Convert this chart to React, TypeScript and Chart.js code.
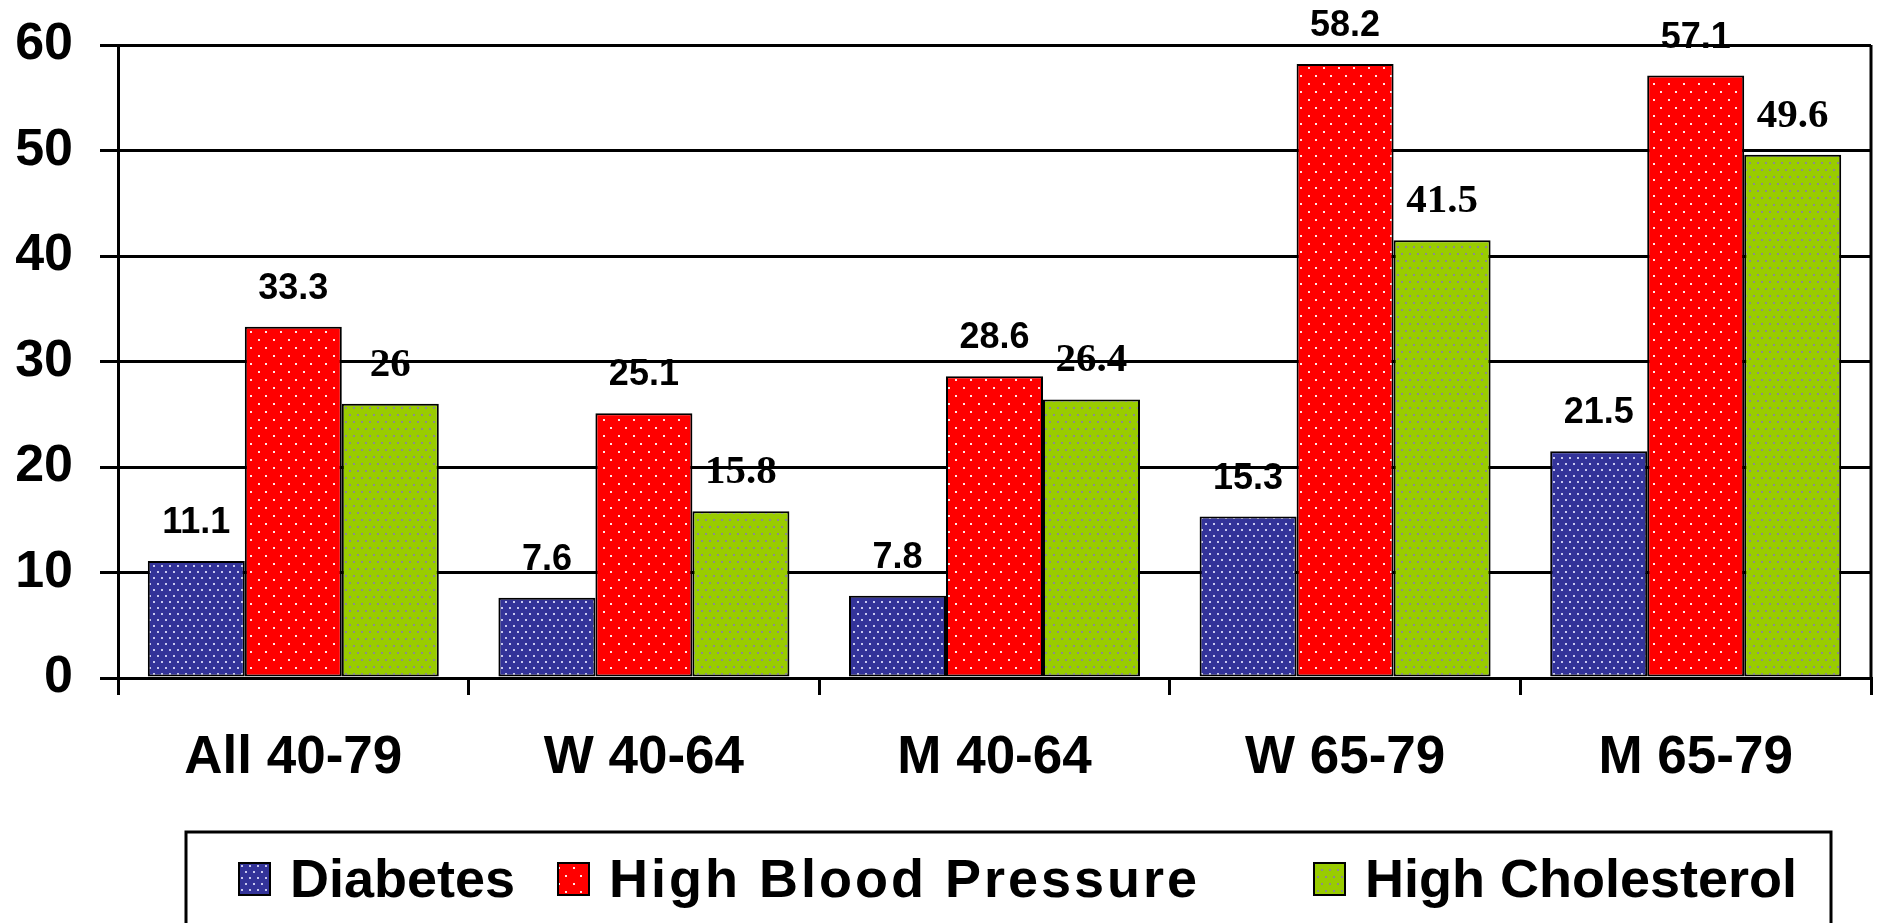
import React, { useEffect, useRef } from "react";
import { Chart, registerables } from "chart.js";

Chart.register(...registerables);

// ---- data ----
const categories = ["All 40-79", "W 40-64", "M 40-64", "W 65-79", "M 65-79"];
const seriesNames = ["Diabetes", "High Blood Pressure", "High Cholesterol"];
const diabetes = [11.1, 7.6, 7.8, 15.3, 21.5];
const highBloodPressure = [33.3, 25.1, 28.6, 58.2, 57.1];
const highCholesterol = [26, 15.8, 26.4, 41.5, 49.6];
const yMin = 0;
const yMax = 60;
const yStep = 10;

// ---- styles ----
const SANS = '"Liberation Sans", Arial, Helvetica, sans-serif';
const SERIF = '"Liberation Serif", "Times New Roman", Times, serif';
const LABEL_FONTS = [
  `bold 36px ${SANS}`,
  `bold 36px ${SANS}`,
  `bold 41px ${SERIF}`,
];
const LEGEND_SPACING = ["0px", "3px", "0px"];

function makePattern(
  bg: string,
  dot: string,
  w: number,
  h: number,
  dots: number[][],
  size: number
) {
  const c = document.createElement("canvas");
  c.width = w;
  c.height = h;
  const g = c.getContext("2d")!;
  g.fillStyle = bg;
  g.fillRect(0, 0, w, h);
  g.fillStyle = dot;
  dots.forEach(([x, y]) => g.fillRect(x, y, size, size));
  const ctx = document.createElement("canvas").getContext("2d")!;
  return ctx.createPattern(c, "repeat")!;
}

export default function App() {
  const ref = useRef<HTMLCanvasElement | null>(null);

  useEffect(() => {
    const canvas = ref.current;
    if (!canvas) return;

    const fills = [
      makePattern("#333399", "#c8c8f0", 8, 12, [[1, 1], [5, 7]], 2),
      makePattern("#ff0000", "#ffe6e6", 15, 16, [[3, 3], [10, 11]], 2),
      makePattern("#99cc00", "#8c8c8c", 8, 14, [[1, 1], [5, 8]], 2),
    ];
    const values = [diabetes, highBloodPressure, highCholesterol];

    const barLabels = {
      id: "barLabels",
      afterDatasetsDraw(chart: any) {
        const ctx = chart.ctx;
        chart.data.datasets.forEach((ds: any, i: number) => {
          const meta = chart.getDatasetMeta(i);
          ctx.save();
          ctx.font = LABEL_FONTS[i];
          ctx.fillStyle = "#000";
          ctx.textAlign = "center";
          ctx.textBaseline = "alphabetic";
          meta.data.forEach((el: any, j: number) => {
            ctx.fillText(String(ds.data[j]), el.x, el.y - 28);
          });
          ctx.restore();
        });
      },
    };

    const frame = {
      id: "frame",
      beforeDatasetsDraw(chart: any) {
        const { ctx, chartArea } = chart;
        ctx.save();
        ctx.strokeStyle = "#000";
        ctx.lineWidth = 3;
        ctx.beginPath();
        ctx.moveTo(chartArea.right, chartArea.top);
        ctx.lineTo(chartArea.right, chartArea.bottom);
        ctx.stroke();
        ctx.restore();
      },
    };

    const legendBox = {
      id: "legendBox",
      afterDraw(chart: any) {
        const ctx = chart.ctx;
        const boxLeft = 186;
        const boxTop = 832;
        const boxRight = 1831;
        const itemOffsets = [53, 372, 1128];
        ctx.save();
        ctx.strokeStyle = "#000";
        ctx.lineWidth = 3;
        ctx.strokeRect(boxLeft, boxTop, boxRight - boxLeft, 200);
        ctx.font = `bold 54px ${SANS}`;
        ctx.textBaseline = "alphabetic";
        ctx.textAlign = "left";
        chart.data.datasets.forEach((ds: any, i: number) => {
          const x = boxLeft + itemOffsets[i];
          const y = 863;
          ctx.fillStyle = ds.backgroundColor;
          ctx.fillRect(x, y, 31, 32);
          ctx.lineWidth = 2;
          ctx.strokeStyle = "#000";
          ctx.strokeRect(x, y, 31, 32);
          ctx.fillStyle = "#000";
          (ctx as any).letterSpacing = LEGEND_SPACING[i];
          ctx.fillText(ds.label, x + 51, 897);
          (ctx as any).letterSpacing = "0px";
        });
        ctx.restore();
      },
    };

    const chart = new Chart(canvas, {
      type: "bar",
      data: {
        labels: categories,
        datasets: seriesNames.map((name, i) => ({
          label: name,
          data: values[i],
          backgroundColor: fills[i] as any,
          borderColor: "#000",
          borderWidth: 2,
          borderSkipped: false,
          categoryPercentage: 0.83,
          barPercentage: 1.0,
        })),
      },
      options: {
        animation: false,
        responsive: false,
        devicePixelRatio: 1,
        layout: { padding: { top: 45, right: 6, left: 0, bottom: 0 } },
        plugins: {
          legend: { display: false },
          tooltip: { enabled: false },
          title: { display: false },
        },
        scales: {
          x: {
            offset: true,
            grid: {
              display: true,
              offset: true,
              drawOnChartArea: false,
              drawTicks: true,
              tickLength: 17,
              color: "#000",
              lineWidth: 3,
            },
            border: { display: true, color: "#000", width: 3 },
            ticks: {
              color: "#000",
              font: { family: SANS, size: 53, weight: "bold" },
              padding: 32,
              maxRotation: 0,
              autoSkip: false,
            },
            afterFit(scale: any) {
              scale.height = 923 - 678;
              scale.paddingLeft = 0;
              scale.paddingRight = 0;
            },
          },
          y: {
            min: yMin,
            max: yMax,
            ticks: {
              stepSize: yStep,
              color: "#000",
              font: { family: SANS, size: 52, weight: "bold" },
              padding: 27,
            },
            grid: {
              color: "#000",
              lineWidth: 3,
              tickLength: 18,
              drawTicks: true,
            },
            border: { display: true, color: "#000", width: 3 },
            afterFit(scale: any) {
              scale.width = 118;
              scale.paddingTop = 0;
              scale.paddingBottom = 0;
            },
          },
        },
      },
      plugins: [frame, barLabels, legendBox],
    });

    return () => chart.destroy();
  }, []);

  return (
    <div
      style={{
        position: "absolute",
        left: 0,
        top: 0,
        width: 1877,
        height: 923,
        background: "#fff",
        overflow: "hidden",
      }}
    >
      <canvas ref={ref} width={1877} height={923} />
    </div>
  );
}
